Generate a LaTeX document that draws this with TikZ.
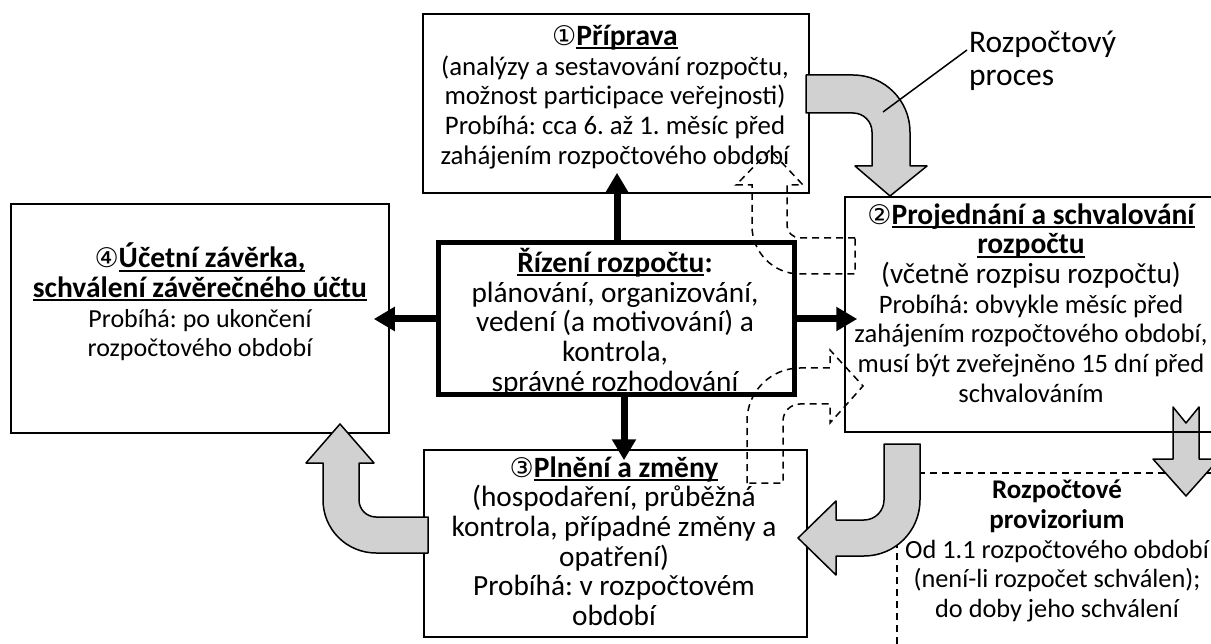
\documentclass[tikz,border=0pt]{standalone}
\usepackage{fontspec}
\setmainfont{Carlito}
\newfontfamily\symfont{DejaVu Sans}
\usetikzlibrary{arrows.meta}
\frenchspacing

% bold, underlined heading text
\newcommand{\uln}[1]{\setbox0=\hbox{#1}\rlap{\rule[-4pt]{\wd0}{2pt}}\box0}
\newcommand{\circnum}[1]{{\symfont\fontsize{27}{29.7}\selectfont #1}}
% type sizes
\newcommand{\fsz}[1]{\fontsize{#1}{29.7}\selectfont}
\newcommand{\head}[1]{{\fsz{29.5}\bfseries #1}}

\tikzset{
  box/.style={draw, line width=1.5pt, inner sep=0pt},
  mainbox/.style={draw, line width=5pt, inner sep=0pt},
  txt/.style={align=center, inner sep=0pt, font=\fsz{26.8}},
  flow/.style={line width=7pt, -{Triangle[length=21pt,width=23pt]}},
  bigarrow/.style={fill=black!18, draw=black, line width=1.5pt, line join=round},
  ghost/.style={draw=black, line width=1.5pt, dash pattern=on 7pt off 5pt},
}

\begin{document}
\begin{tikzpicture}[x=1pt,y=-1pt]
\useasboundingbox (0,0) rectangle (1211,644);
\clip (0,0) rectangle (1211,644);

% budget provisorium area (dashed) and the arrow leading into it
\draw[ghost] (897,680) -- (897,473) -- (1240,473);
\node[txt, font=\fsz{26.3}] (tp) at (1057,551) {{\fsz{27}\bfseries Rozpočtové}\\ {\fsz{27}\bfseries provizorium}\\ Od 1.1 rozpočtového období\\ (není-li rozpočet schválen);\\ do doby jeho schválení};
\draw[bigarrow] (1173,407) -- (1186,423) -- (1199,407) -- (1199,459) -- (1219,459)
  -- (1186,496) -- (1153,459) -- (1173,459) -- cycle;

% phase boxes
\node[box, minimum width=386pt, minimum height=179pt] (b1) at (616,103.5) {};
\node[mainbox, minimum width=356pt, minimum height=152pt] (cb) at (616,319) {};
\node[box, minimum width=378pt, minimum height=229pt] (b4) at (200,318.5) {};
\node[box, minimum width=395pt, minimum height=235pt] (b2) at (1042.5,314.5) {};
\node[box, minimum width=383pt, minimum height=187pt] (b3) at (615.5,543.5) {};

\node[txt] (t1) at (615,97) {\circnum{①}\head{\uln{Příprava}}\\ (analýzy a sestavování rozpočtu,\\ možnost participace veřejnosti)\\ Probíhá: cca 6. až 1. měsíc před\\ zahájením rozpočtového období};
\node[txt, font=\fsz{29.3}] (tc) at (615,322) {\head{\uln{Řízení rozpočtu}:}\\ plánování, organizování,\\ vedení (a motivování) a\\ kontrola,\\ správné rozhodování};
\node[txt, font=\fsz{26}] (t4) at (200,302) {\circnum{④}\head{\uln{Účetní závěrka,}}\\ \head{\uln{schválení závěrečného účtu}}\\ Probíhá: po ukončení\\ rozpočtového období};
\node[txt, font=\fsz{26.6}] (t2) at (1031,303) {\circnum{②}\head{\uln{Projednání a schvalování}}\\ \head{\uln{rozpočtu}}\\ {\fsz{29.2}(včetně rozpisu rozpočtu)}\\ Probíhá: obvykle měsíc před\\ zahájením rozpočtového období,\\ musí být zveřejněno 15 dní před\\ schvalováním};
\node[txt, font=\fsz{29.3}] (t3) at (614,541) {\circnum{③}\head{\uln{Plnění a změny}}\\ (hospodaření, průběžná\\ kontrola, případné změny a\\ opatření)\\ Probíhá: v rozpočtovém\\ období};

% management links
\draw[flow, shorten >=-21pt] ([xshift=1pt]cb.north) -- ([xshift=1pt]cb.north |- b1.south);
\draw[flow, shorten >=-16pt] (cb.west) -- (cb.west -| b4.east);
\draw[flow, shorten >=-13pt] (cb.east) -- (cb.east -| b2.west);
\draw[flow, shorten >=-11pt] ([xshift=8pt]cb.south) -- ([xshift=8pt]cb.south |- b3.north);

% budget cycle arrows
\draw[bigarrow] (806,75) -- (853,75) .. controls (884.5,75) and (910,100.5) .. (910,132)
  -- (910,166) -- (927,166) -- (890,196) -- (855,166) -- (872,166) -- (872,132)
  .. controls (872,121.5) and (863.5,113) .. (853,113) -- (806,113) -- cycle;
\draw[bigarrow] (884,444) -- (920,444) -- (920,500) .. controls (920,531) and (895,556) .. (864,556)
  -- (836,556) -- (836,575) -- (798,538) -- (836,501) -- (836,520) -- (864,520)
  .. controls (875,520) and (884,511) .. (884,500) -- cycle;
\draw[bigarrow] (428,517) -- (376,517) .. controls (366.6,517) and (359,509.4) .. (359,500)
  -- (359,463) -- (374,463) -- (340,424) -- (306,463) -- (323,463) -- (323,500)
  .. controls (323,529.3) and (346.7,553) .. (376,553) -- (428,553) -- cycle;

% returns to earlier phases (dashed outlines)
\draw[ghost] (855,238) -- (800,238) .. controls (793,238) and (787,232) .. (787,226)
  -- (787,185) -- (803,185) -- (770,150) -- (736,185) -- (752,185) -- (752,226)
  .. controls (752,252.5) and (773.5,274) .. (800,274) -- (855,274) -- cycle;
\draw[ghost] (747,483) -- (747,421) .. controls (747,391.7) and (770.7,368) .. (800,368)
  -- (830,368) -- (830,350) -- (863,386) -- (830,423) -- (830,404) -- (800,404)
  .. controls (790.6,404) and (783,411.6) .. (783,421) -- (783,483) -- cycle;

% label of the cycle
\node[align=left, inner sep=0pt, anchor=north west, font=\fontsize{31.5}{33}\selectfont] (rp) at (969,31) {Rozpočtový\\ proces};
\coordinate (rpend) at (883,112);
\draw[line width=1.5pt] ([xshift=-2pt]rp.north west) ++(0,19) -- (rpend);
\end{tikzpicture}
\end{document}
